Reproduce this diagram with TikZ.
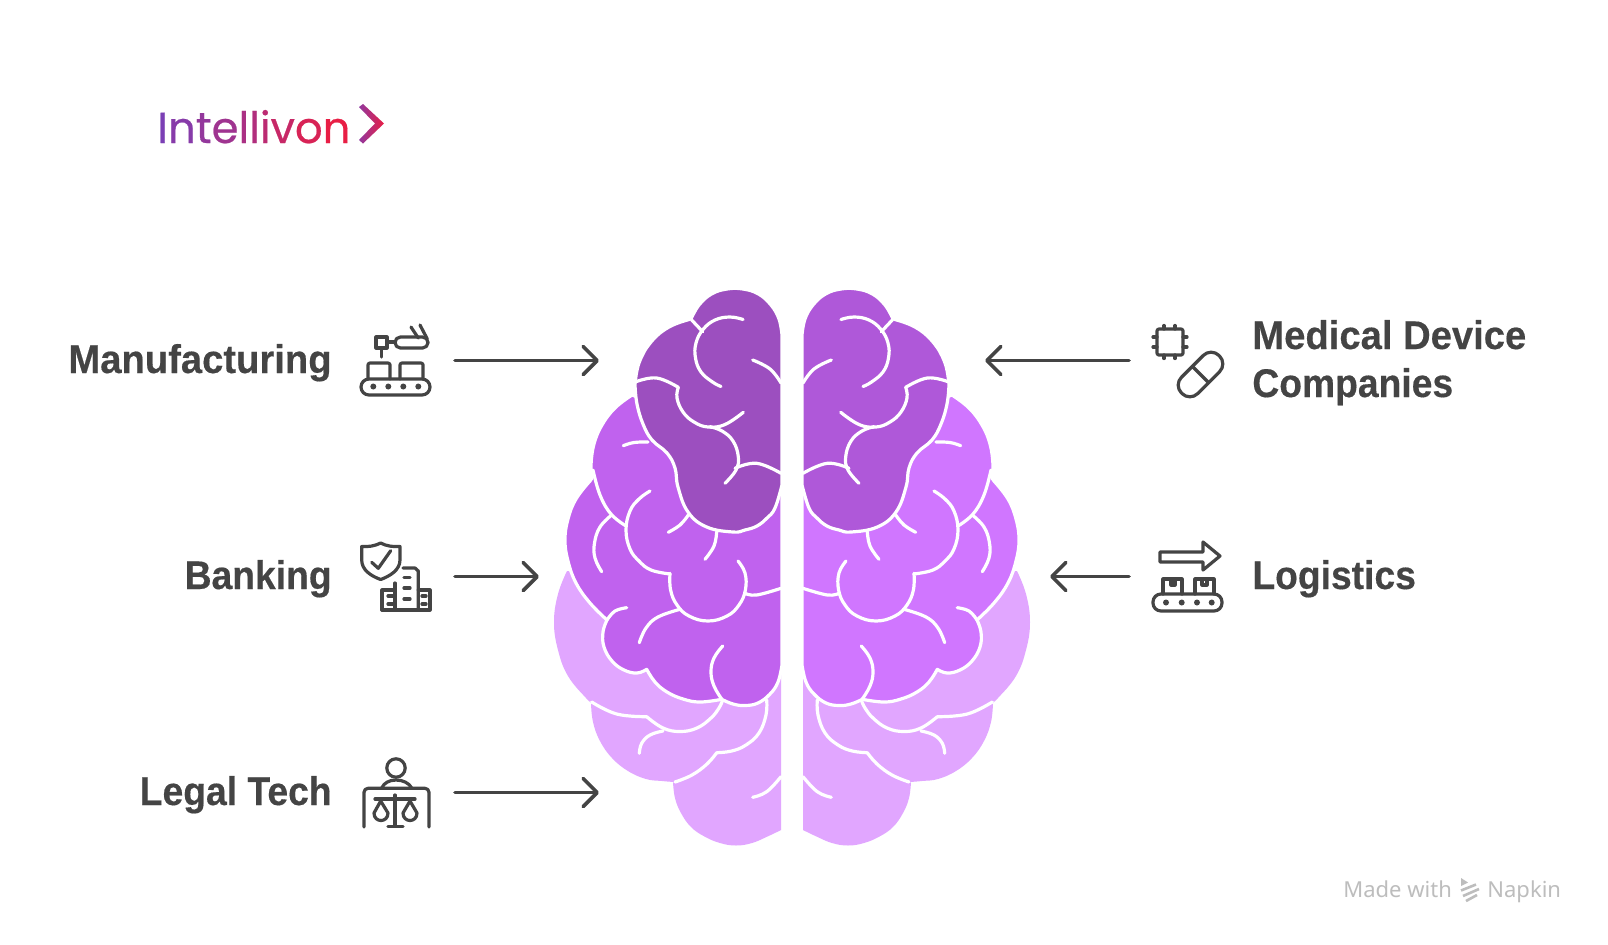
\documentclass[tikz,border=0pt]{standalone}
\usepackage{fontspec}
\setmainfont{Liberation Sans}[FakeStretch=0.955,BoldFeatures={FakeBold=0.35}]
\newfontfamily\logofont{Poppins}[FakeBold=0.5]
\newfontfamily\stampfont{Noto Sans}
\usetikzlibrary{arrows.meta}

\definecolor{inkgrey}{HTML}{444444}
\definecolor{stampgrey}{HTML}{BDBDBD}
\definecolor{lobelight}{HTML}{E1A6FF}
\definecolor{leftdark}{HTML}{9C4FBF}
\definecolor{leftmid}{HTML}{C062EE}
\definecolor{rightdark}{HTML}{AF58D9}
\definecolor{rightmid}{HTML}{D076FF}
\definecolor{logostart}{HTML}{7B3FB5}
\definecolor{logoend}{HTML}{E81E45}

% one half of the brain, drawn on the left of the gap
\newcommand{\brainhalf}[2]{
    % light layer
    \fill[lobelight] plot[curl] coordinates {(567,571) (558,594) (554,622) (558,650) (568,676) (586,698) (592,703)}
        -- plot[curl] coordinates {(591,703) (593,722) (600,741) (612,758) (628,771) (646,779) (662,781) (674,782)}
        -- plot[curl] coordinates {(673,782) (675,798) (681,813) (691,827) (704.5,836.5) (720,843) (736,845.5) (752,843) (767.5,836.5) (781,830)}
        -- (781,600) -- cycle;
    % middle layer
    \path[lobe, fill=#2] (700,420) -- plot[curl] coordinates {(632,395) (615,408) (602,425) (594,444) (591,465) (592,478)}
        -- plot[curl] coordinates {(590,481) (576,499) (568,519) (565,540) (568,561) (576,583) (590,603) (607,620)}
        -- plot[curl] coordinates {(607,620) (603,632) (604,647) (612,661) (624,670) (637,673) (646.7,669.3)}
        -- plot[curl] coordinates {(646.7,669.3) (655,682) (667,692) (683,699) (700,702) (721.7,699.3)}
        -- plot[curl] coordinates {(721.7,699.3) (733,704) (745,705.5) (758,703) (770,694) (778,682) (782,665)}
        -- (782,480) -- cycle;
    % dark layer
    \path[lobe, fill=#1] plot[curl] coordinates {(782,335) (779,319) (771,305) (758.5,294) (743,289) (727,289) (711.5,294) (699,305) (691,319)}
        -- plot[curl] coordinates {(691,319) (669,327) (651,342) (639,363) (635,385)}
        -- plot[curl] coordinates {(635,385) (637,404) (643,424) (652,440) (667,453) (675,468) (678,487) (688,512) (706.7,527) (733,532) (745,530) (757,526) (767,518) (775,508) (782,485)}
        -- cycle;
    % folds of the dark layer
    \draw[fold] (691.7,320) -- (702.7,331.7);
    \draw[fold] plot[curl] coordinates {(743,319.5) (730,317) (715,320) (703,329.5) (696,343) (695.5,358) (701,372) (712.5,382) (721,386.5)};
    \draw[fold] plot[curl] coordinates {(752.7,360) (770,369) (781,383)};
    \draw[fold] plot[curl] coordinates {(636,381.7) (656.7,378) (678.3,387.3)};
    \draw[fold] plot[curl] coordinates {(678.3,387.3) (677,398) (683,412) (694,422) (708,427) (725,424.5) (743.3,412.3)};
    \draw[fold] plot[curl] coordinates {(710,426.7) (722,431) (733,441) (738.3,456.7) (736,470) (725,483.3)};
    \draw[fold] plot[curl] coordinates {(735,468.3) (756.7,463.3) (781,473.3)};
    % folds of the middle layer
    \draw[fold] plot[curl] coordinates {(623.3,445.7) (634,442.5) (648,442)};
    \draw[fold] plot[curl] coordinates {(593,470) (600,495) (611,514) (626,526)};
    \draw[fold] plot[curl] coordinates {(650,491) (639,499) (630,511) (626,530) (630,549) (639,561) (651,570) (670,574)};
    \draw[fold] plot[curl] coordinates {(670,573.3) (670.6,590) (677,605) (689,616) (708,621) (727,616) (739,605) (745.4,590) (745,573) (738,561)};
    \draw[fold] plot[curl] coordinates {(611.7,515) (600,527) (594.5,543) (595,558) (601.7,571.7)};
    \draw[fold] plot[curl] coordinates {(688.3,515) (680,525) (668.3,532.3)};
    \draw[fold] plot[curl] coordinates {(716.7,531.7) (714,546) (705,559.3)};
    \draw[fold] plot[curl] coordinates {(745,593.3) (756.7,595) (781,588.3)};
    \draw[fold] plot[curl] coordinates {(626.7,607.7) (615,611) (607,620)};
    \draw[fold] plot[curl] coordinates {(680,609.3) (658,617) (646,628) (639.3,642.7)};
    \draw[fold] plot[curl] coordinates {(722.7,646) (714,658) (711,672) (714,686) (721.7,699)};
    % folds of the light layer
    \draw[fold] plot[curl] coordinates {(591.7,702) (616.7,714) (646.7,716.7)};
    \draw[fold] plot[curl] coordinates {(646.7,716.7) (663,728) (680,731.5) (697,728) (711,718) (719,708) (722.7,700)};
    \draw[fold] plot[curl] coordinates {(766.7,700) (766,715) (759,733) (746,745) (731.7,751) (716.7,752.7)};
    \draw[fold] plot[curl] coordinates {(716.7,752.7) (707,764) (692,775) (675,782)};
    \draw[fold] plot[curl] coordinates {(663,731) (650,735) (641.7,743.3) (639.3,753.3)};
    \draw[fold] plot[curl] coordinates {(752.7,797.3) (766.7,791.7) (781,776.7)};
}

\begin{document}
\begin{tikzpicture}[
    x=0.5pt, y=-0.5pt,
    % Styles
    curl/.style={smooth, tension=0.7},
    lobe/.style={draw=white, line width=1.6pt, line join=round, line cap=round},
    fold/.style={draw=white, line width=1.6pt, line cap=round},
    flow/.style={draw=inkgrey, line width=1.8pt, line cap=round,
                 -{Straight Barb[round, length=7pt, width=14pt]}},
    sector/.style={font=\fontsize{20}{24}\selectfont\bfseries, text=inkgrey, inner sep=0pt},
    narrow/.style={transform shape, xscale=0.975},
    icon/.style={draw=inkgrey, line width=1.6pt, line cap=round, line join=round},
    dot/.style={fill=inkgrey},
    stamp/.style={font=\stampfont\fontsize{11}{13}\selectfont, text=stampgrey, inner sep=0pt}
]
\useasboundingbox (0,0) rectangle (1608,944);
\fill[white] (0,0) rectangle (1608,944);

% Logo
\node[anchor=base west, inner sep=0pt] (logo) at (157,143) {\logofont\fontsize{21.7}{26}\selectfont
    \textcolor{logostart}{I}\textcolor{logoend!11!logostart}{n}\textcolor{logoend!22!logostart}{t}\textcolor{logoend!33!logostart}{e}\textcolor{logoend!44!logostart}{l}\textcolor{logoend!50!logostart}{l}\textcolor{logoend!60!logostart}{i}\textcolor{logoend!70!logostart}{v}\textcolor{logoend!85!logostart}{o}\textcolor{logoend}{n}};
\shade[left color=logostart!80!logoend, right color=logoend] (359,107) -- (363,104) -- (384,123.5) -- (363,143.5) -- (359,140) -- (375,123.5) -- cycle;

% Brain
\brainhalf{leftdark}{leftmid}
\begin{scope}[shift={(1584,0)}, xscale=-1]
    \brainhalf{rightdark}{rightmid}
\end{scope}

% Labels
\node[sector, anchor=base east] (manuf_label) at (332,373) {Manufacturing};
\node[sector, narrow, anchor=base east] (bank_label) at (332,589) {Banking};
\node[sector, narrow, anchor=base east] (legal_label) at (332,805) {Legal Tech};
\node[sector, anchor=base west] (medical_label) at (1252,349) {Medical Device};
\node[sector, narrow, anchor=base west] (companies_label) at (1252,397) {Companies};
\node[sector, narrow, anchor=base west] (logistics_label) at (1252,589) {Logistics};

% Arrows
\coordinate (manuf_from) at (455,360.5);
\coordinate (manuf_to) at (599,360.5);
\coordinate (bank_from) at (455,576.5);
\coordinate (bank_to) at (539,576.5);
\coordinate (legal_from) at (455,792.5);
\coordinate (legal_to) at (599,792.5);
\coordinate (medical_from) at (1129,360.5);
\coordinate (medical_to) at (985,360.5);
\coordinate (logistics_from) at (1129,576.5);
\coordinate (logistics_to) at (1050,576.5);
\draw[flow] (manuf_from) -- (manuf_to);
\draw[flow] (bank_from) -- (bank_to);
\draw[flow] (legal_from) -- (legal_to);
\draw[flow] (medical_from) -- (medical_to);
\draw[flow] (logistics_from) -- (logistics_to);

% Manufacturing icon
\draw[icon, rounded corners=4pt] (361,379) rectangle (430,395);
\foreach \px in {373.3,388.3,403.3,418.3}
    \fill[dot] (\px,386.5) circle (1.5pt);
\draw[icon, rounded corners=1pt] (368,379) -- (368,363) -- (390,363) -- (390,379);
\draw[icon, rounded corners=1pt] (400,379) -- (400,363) -- (423,363) -- (423,379);
\draw[icon] (376,337) rectangle (387,348);
\draw[icon] (381.3,348) -- (381.3,357);
\draw[icon, rounded corners=2.7pt] (395,337) rectangle (428,348);
\draw[icon] (387,342) -- (395,342);
\draw[icon] (411,327) -- (418.3,338);
\draw[icon] (420,325) -- (427.3,339);

% Banking icon
\draw[icon] (380.7,543) .. controls (375,546) and (368,547) .. (361.7,546.5) -- (361.7,560)
    .. controls (361.7,570) and (371,576) .. (380.7,579.5)
    .. controls (390,576) and (400,570) .. (400,560) -- (400,546.5)
    .. controls (393,547) and (386,546) .. (380.7,543) -- cycle;
\draw[icon] (371.7,562.3) -- (378.3,568.3) -- (390.7,550.7);
\draw[icon] (382,610) -- (382,590) -- (395,590);
\draw[icon] (395,610) -- (395,583);
\draw[icon] (403,568) -- (415,568) -- (418.3,571) -- (418.3,610);
\draw[icon] (418.3,590) -- (430,590) -- (430,610) -- (382,610);
\foreach \wy in {577.7,588,599}
    \draw[icon] (404,\wy) -- (410,\wy);
\foreach \wy in {596,604}{
    \draw[icon] (388,\wy) -- (393,\wy);
    \draw[icon] (422,\wy) -- (426,\wy);
}

% Legal icon
\draw[icon] (396,768) circle (4.6pt);
\draw[icon] (381.7,788) .. controls (384,783) and (389,780) .. (396,780) .. controls (403,780) and (409,783) .. (411.7,788);
\draw[icon, rounded corners=2pt] (364,827) -- (364,788.3) -- (429,788.3) -- (429,827);
\draw[icon] (375,799) -- (415,799);
\draw[icon] (395,795) -- (395,826);
\draw[icon] (388,826.5) -- (403,826.5);
\draw[icon] (380.7,801) -- (374,813) .. controls (374,823) and (388,823) .. (388,813) -- cycle;
\draw[icon] (410,801) -- (403,813) .. controls (403,823) and (417,823) .. (417,813) -- cycle;

% Medical icon
\draw[icon, rounded corners=1pt] (1157,329) rectangle (1183,355);
\foreach \pin in {1164,1175}{
    \draw[icon] (\pin,325.5) -- (\pin,329);
    \draw[icon] (\pin,355) -- (\pin,358.5);
}
\foreach \pin in {337,347}{
    \draw[icon] (1153,\pin) -- (1157,\pin);
    \draw[icon] (1183,\pin) -- (1187,\pin);
}
\draw[icon, rounded corners=5.5pt, rotate around={45:(1200.5,374.5)}] (1174,363) rectangle (1227,386);
\draw[icon, rotate around={45:(1200.5,374.5)}] (1200.5,363) -- (1200.5,386);

% Logistics icon
\draw[icon] (1160,552) -- (1203,552) -- (1203,542) -- (1220,556) -- (1203,570) -- (1203,562) -- (1160,562) -- cycle;
\draw[icon, rounded corners=4pt] (1153,594) rectangle (1222,611);
\foreach \px in {1166,1181.7,1197,1211.7}
    \fill[dot] (\px,602.5) circle (1.5pt);
\draw[icon] (1163,594) -- (1163,579) -- (1182,579) -- (1182,594);
\draw[icon] (1195,594) -- (1195,579) -- (1214,579) -- (1214,594);
\draw[icon] (1171,579) -- (1171,585) -- (1175,585) -- (1175,579);
\draw[icon] (1202,579) -- (1202,585) -- (1207,585) -- (1207,579);

% Stamp
\node[stamp, anchor=base west] (stamp_made) at (1343,897) {Made with};
\node[stamp, anchor=base west] (stamp_name) at (1487,897) {Napkin};
\fill[stampgrey] (1461,878) -- (1468,882.5) -- (1461,886) -- cycle;
\draw[stampgrey, line width=1.3pt] (1461,890.5) -- (1476,884.5);
\draw[stampgrey, line width=1.3pt] (1463,896) -- (1479,889);
\draw[stampgrey, line width=1.3pt] (1466,901) -- (1477,895);

\end{tikzpicture}
\end{document}
